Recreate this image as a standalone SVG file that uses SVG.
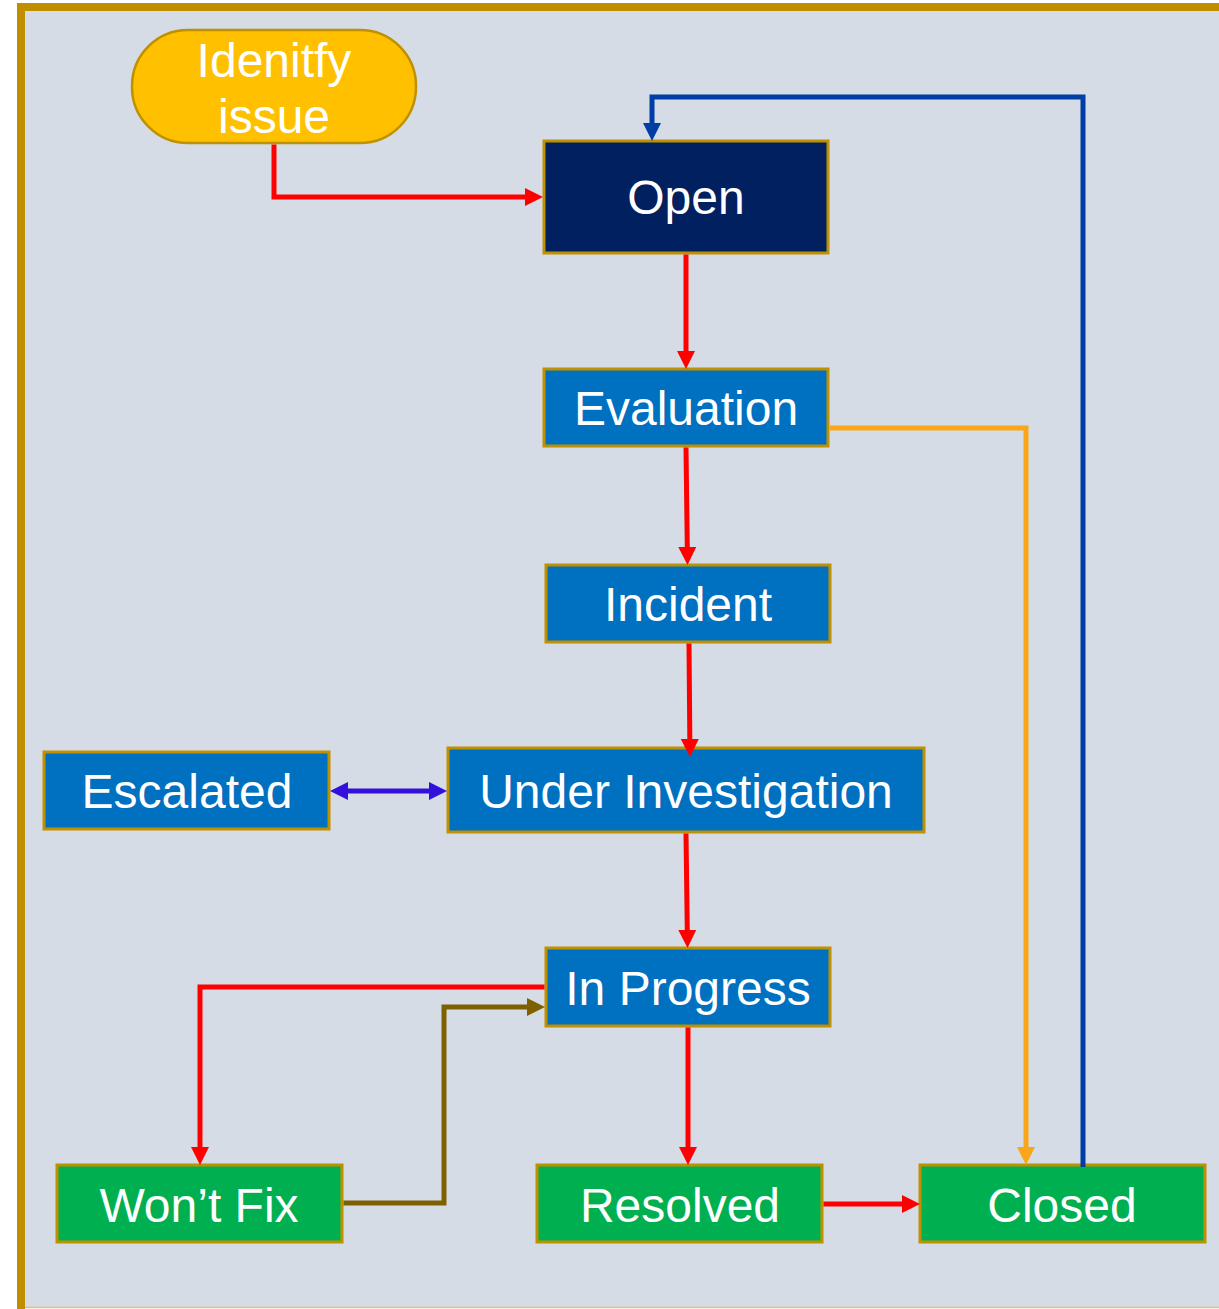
<svg xmlns="http://www.w3.org/2000/svg" width="1219" height="1309" viewBox="0 0 1219 1309">
<style>
.box{stroke:#BF9000;stroke-width:3}
.t{font-family:"Liberation Sans",Arial,sans-serif;font-size:48px;fill:#FFFFFF;text-anchor:middle}
.c{fill:none;stroke-width:5}
</style>
<defs>
<marker id="aR" markerUnits="userSpaceOnUse" markerWidth="18" markerHeight="18" refX="9" refY="9" orient="auto"><path d="M0,0 L18,9 L0,18 Z" fill="#FF0000"/></marker>
<marker id="aO" markerUnits="userSpaceOnUse" markerWidth="18" markerHeight="18" refX="9" refY="9" orient="auto"><path d="M0,0 L18,9 L0,18 Z" fill="#F9A61A"/></marker>
<marker id="aB" markerUnits="userSpaceOnUse" markerWidth="18" markerHeight="18" refX="9" refY="9" orient="auto"><path d="M0,0 L18,9 L0,18 Z" fill="#003DA5"/></marker>
<marker id="aN" markerUnits="userSpaceOnUse" markerWidth="18" markerHeight="18" refX="9" refY="9" orient="auto"><path d="M0,0 L18,9 L0,18 Z" fill="#7F6000"/></marker>
<marker id="aV" markerUnits="userSpaceOnUse" markerWidth="18" markerHeight="18" refX="9" refY="9" orient="auto-start-reverse"><path d="M0,0 L18,9 L0,18 Z" fill="#3311DD"/></marker>
</defs>
<rect x="0" y="0" width="1219" height="1309" fill="#FFFFFF"/>
<rect x="21" y="7" width="1210" height="1300" fill="#D5DCE5"/>
<line x1="21" y1="1307.5" x2="1219" y2="1307.5" stroke="#D9C27A" stroke-width="1.5"/>
<line x1="21" y1="3" x2="21" y2="1309" stroke="#BF8F00" stroke-width="8"/>
<line x1="17" y1="7" x2="1219" y2="7" stroke="#BF8F00" stroke-width="8"/>

<g id="identify">
<rect x="132" y="30" width="284" height="113" rx="56" ry="56" fill="#FFC000" stroke="#BF9000" stroke-width="2.5"/>
<text class="t" x="274" y="77">Idenitfy</text>
<text class="t" x="274" y="133">issue</text>
</g>
<g id="open">
<rect class="box" x="544" y="141" width="284" height="112" fill="#002060"/>
<text class="t" x="686" y="214">Open</text>
</g>
<g id="evaluation">
<rect class="box" x="544" y="369" width="284" height="77" fill="#0070C0"/>
<text class="t" x="686" y="425">Evaluation</text>
</g>
<g id="incident">
<rect class="box" x="546" y="565" width="284" height="77" fill="#0070C0"/>
<text class="t" x="688" y="621">Incident</text>
</g>
<g id="escalated">
<rect class="box" x="44" y="752" width="285" height="77" fill="#0070C0"/>
<text class="t" x="187" y="808">Escalated</text>
</g>
<g id="under-investigation">
<rect class="box" x="448" y="748" width="476" height="84" fill="#0070C0"/>
<text class="t" x="686" y="808">Under Investigation</text>
</g>
<g id="in-progress">
<rect class="box" x="546" y="948" width="284" height="78" fill="#0070C0"/>
<text class="t" x="688" y="1005">In Progress</text>
</g>
<g id="wont-fix">
<rect class="box" x="57" y="1165" width="285" height="77" fill="#00B050"/>
<text class="t" x="199" y="1222">Won’t Fix</text>
</g>
<g id="resolved">
<rect class="box" x="537" y="1165" width="285" height="77" fill="#00B050"/>
<text class="t" x="680" y="1222">Resolved</text>
</g>
<g id="closed">
<rect class="box" x="920" y="1165" width="285" height="77" fill="#00B050"/>
<text class="t" x="1062" y="1222">Closed</text>
</g>

<g id="connectors">
<path class="c" d="M274,144.5 V197 H534" stroke="#FF0000" marker-end="url(#aR)"/>
<path class="c" d="M686,254.5 V360" stroke="#FF0000" marker-end="url(#aR)"/>
<path class="c" d="M686,447.5 L687.4,556" stroke="#FF0000" marker-end="url(#aR)"/>
<path class="c" d="M689,643.5 L689.9,748" stroke="#FF0000" marker-end="url(#aR)"/>
<path class="c" d="M686,833.5 L687.4,939" stroke="#FF0000" marker-end="url(#aR)"/>
<path class="c" d="M544.5,987 H200 V1156" stroke="#FF0000" marker-end="url(#aR)"/>
<path class="c" d="M343.5,1203 H444 V1007 H536" stroke="#7F6000" marker-end="url(#aN)"/>
<path class="c" d="M688,1027.5 V1156" stroke="#FF0000" marker-end="url(#aR)"/>
<path class="c" d="M823.5,1204 H911" stroke="#FF0000" marker-end="url(#aR)"/>
<path class="c" d="M829.5,428 H1026 V1156" stroke="#F9A61A" marker-end="url(#aO)"/>
<path class="c" d="M1083,1167 V97 H652 V132" stroke="#003DA5" marker-end="url(#aB)"/>
<path class="c" d="M339,791 H438" stroke="#3311DD" marker-start="url(#aV)" marker-end="url(#aV)"/>
</g>
</svg>
